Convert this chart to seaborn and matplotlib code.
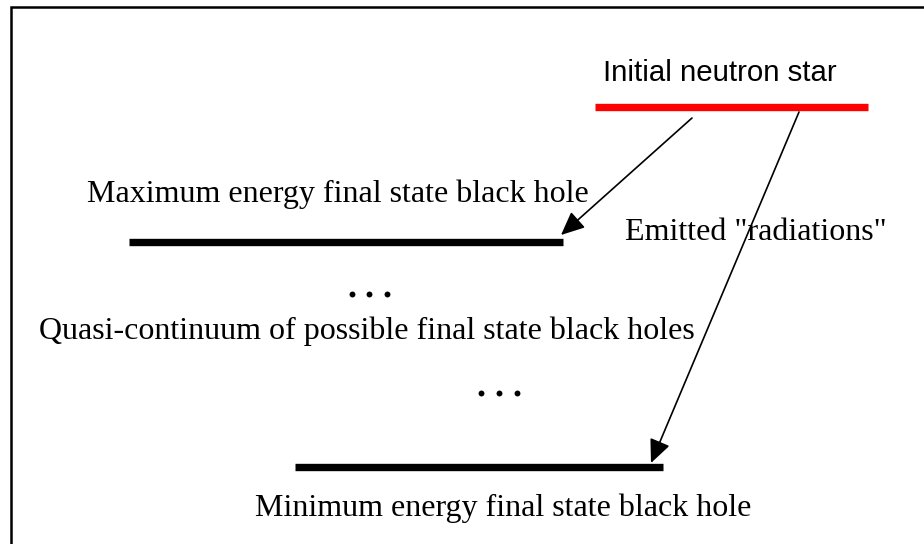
import pandas as pd
import numpy as np
import matplotlib.pyplot as plt
import seaborn as sns

# --- energy levels (pixel space of the original drawing) ---
level_names = ['Initial neutron star', 'Maximum energy final state black hole',
               'Minimum energy final state black hole']
level_y = [107, 241.5, 466.5]
level_x0 = [595, 129, 295]
level_x1 = [868, 563, 663]
level_colors = ['#ff0000', '#000000', '#000000']

# --- labels ---
label_text = ['Initial neutron star', 'Maximum energy final state black hole',
              'Emitted "radiations"', 'Quasi-continuum of possible final state black holes',
              'Minimum energy final state black hole']
label_x = [603, 87, 625, 39, 255]
label_y = [81, 202, 240, 339, 516]
label_family = ['Liberation Sans', 'Liberation Serif', 'Liberation Serif',
                'Liberation Serif', 'Liberation Serif']

# --- "..." markers ---
dots_x = [352, 369, 387, 481, 499, 517]
dots_y = [294, 294, 294, 393, 393, 393]

# --- transitions (start -> tip) ---
arrow_start = [(692, 118), (799, 112)]
arrow_end = [(561, 235), (651, 463)]

sns.set_theme(style='white')

fig = plt.figure(figsize=(9.24, 5.44), dpi=100)
ax = fig.add_axes([0, 0, 1, 1])

# frame (only top and left edges visible)
ax.plot([11, 11, 924], [544, 7, 7], color='black', lw=1.8, solid_joinstyle='miter')

# levels
levels = pd.DataFrame({
    'name': np.repeat(level_names, 2),
    'x': np.ravel(np.column_stack([level_x0, level_x1])),
    'y': np.repeat(level_y, 2),
})
sns.lineplot(data=levels, x='x', y='y', hue='name', palette=dict(zip(level_names, level_colors)),
             linewidth=5.3, legend=False, ax=ax, sort=False, estimator=None, units='name',
             solid_capstyle='butt')
ax.set_xlim(0, 924)
ax.set_ylim(544, 0)
ax.axis('off')

# arrows
for (xs, ys), (xe, ye) in zip(arrow_start, arrow_end):
    ax.annotate('', xy=(xe, ye), xytext=(xs, ys),
                arrowprops=dict(arrowstyle='-|>,head_length=0.4,head_width=0.18',
                                mutation_scale=36, color='black', lw=1.2,
                                shrinkA=0, shrinkB=0))

# labels
for t, x, y, fam in zip(label_text, label_x, label_y, label_family):
    size = 21.2 if fam == 'Liberation Sans' else 23
    ax.text(x, y, t, family=fam, fontsize=size, ha='left', va='baseline', color='black')

ax.scatter(dots_x, dots_y, s=18, color='black', zorder=3, linewidths=0)

fig.savefig('out.png', dpi=100)
